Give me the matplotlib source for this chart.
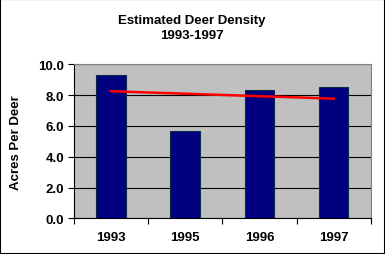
import matplotlib.pyplot as plt
from matplotlib.patches import Rectangle

years = ['1993', '1995', '1996', '1997']
acres_per_deer = [9.3, 5.7, 8.3, 8.5]
trend_ends = [8.25, 7.77]  # trend line at first and last bar

plt.rcParams['font.family'] = ['Liberation Sans', 'DejaVu Sans']

fig = plt.figure(figsize=(3.85, 2.55), dpi=100)
ax = fig.add_axes([74 / 385, 1 - 219.3 / 255, 296.7 / 385, 154 / 255])
ax.set_facecolor('#c0c0c0')

x = range(len(years))
ax.bar(x, acres_per_deer, width=0.4, color='#000080', edgecolor='#0b2a4a', linewidth=0.8, zorder=3)
ax.plot([0, len(years) - 1], trend_ends, color='#ff0000', linewidth=1.8, zorder=4)

ax.set_xlim(-0.5, len(years) - 0.5)
ax.set_ylim(0, 10)
ax.set_yticks([0, 2, 4, 6, 8, 10])
ax.set_yticklabels(['%.1f' % v for v in [0, 2, 4, 6, 8, 10]], fontsize=9.5, fontweight='bold')
ax.set_xticks(list(x))
ax.set_xticklabels(years, fontsize=9.5, fontweight='bold')
ax.set_xticks([i - 0.5 for i in range(len(years) + 1)], minor=True)
ax.tick_params(axis='x', which='major', length=0, pad=9)
ax.tick_params(axis='x', which='minor', length=4, width=0.8, direction='out')
ax.tick_params(axis='y', length=4, width=0.8, pad=3)
ax.yaxis.grid(True, color='black', linewidth=0.8, zorder=1)
ax.set_axisbelow(True)

for s in ['top', 'right']:
    ax.spines[s].set_color('#808080')
for s in ['left', 'bottom']:
    ax.spines[s].set_color('black')
    ax.spines[s].set_linewidth(0.8)

ax.set_ylabel('Acres Per Deer', fontsize=9.5, fontweight='bold')
ax.yaxis.set_label_coords(-(74 - 22) / 296.7, 0.5)
fig.text(192 / 385, 1 - 28.5 / 255, 'Estimated Deer Density\n1993-1997', ha='center', va='center',
         fontsize=9.5, fontweight='bold', linespacing=1.3)

fig.patches.append(Rectangle((0, 0), 1, 1, transform=fig.transFigure, fill=False,
                             edgecolor='black', linewidth=1.5))

fig.savefig('out.png', dpi=100)
